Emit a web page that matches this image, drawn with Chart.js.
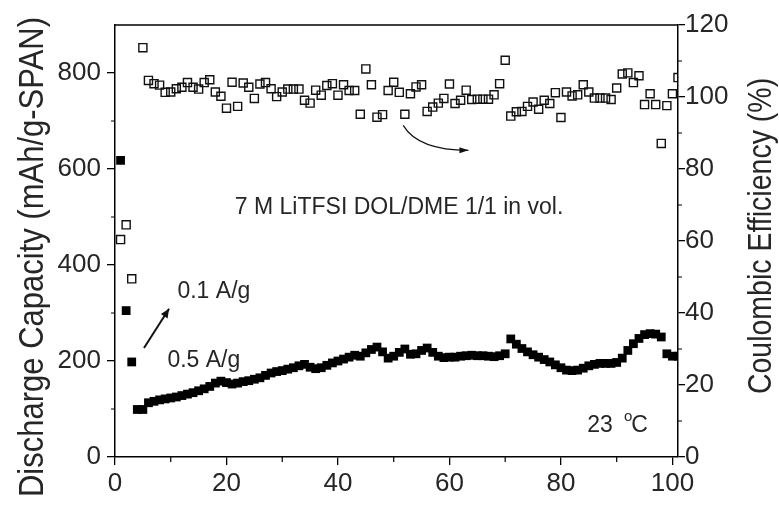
<!DOCTYPE html>
<html>
<head>
<meta charset="utf-8">
<script src="https://cdn.jsdelivr.net/npm/chart.js@4/dist/chart.umd.min.js"></script>
<style>
  html, body { margin: 0; padding: 0; background: #fff; }
  #wrap { width: 779px; height: 510px; }
</style>
</head>
<body>
<div id="wrap"><canvas id="c" width="779" height="510"></canvas></div>
<script>
// cycle number
const cycles = [1,2,3,4,5,6,7,8,9,10,11,12,13,14,15,16,17,18,19,20,
  21,22,23,24,25,26,27,28,29,30,31,32,33,34,35,36,37,38,39,40,
  41,42,43,44,45,46,47,48,49,50,51,52,53,54,55,56,57,58,59,60,
  61,62,63,64,65,66,67,68,69,70,71,72,73,74,75,76,77,78,79,80,
  81,82,83,84,85,86,87,88,89,90,91,92,93,94,95,96,97,98,99,100,101];

// discharge capacity (mAh/g-SPAN), left axis
const capacity = [618,305,198,99,99,113,116,119,121,123,125,128,131,134,138,142,147,154,158,155,
  152,154,157,159,162,165,170,175,178,180,183,186,190,193,187,184,186,191,196,200,
  204,208,212,210,217,224,229,219,206,210,218,225,214,215,222,227,218,210,207,208,
  208,210,211,212,211,211,210,209,211,215,246,235,226,219,213,208,203,198,192,186,
  181,180,181,185,190,193,195,195,195,197,206,222,236,247,255,257,256,250,215,210,210];

// coulombic efficiency (%), right axis
const efficiency = [60.4,64.5,49.5,null,113.7,104.6,103.7,103.3,101.3,101.4,102.3,102.7,104,102.7,102.2,104,104.8,101.4,100.2,96.9,
  104.1,97.4,103.9,102.7,99.6,103.6,104,102.3,100.1,101.4,102.2,102.2,102.2,99.1,98.3,101.9,100.5,103.2,103.7,100.5,
  103.4,101.8,101.8,95.2,107.8,103.4,94.4,95.1,101.8,104.1,101.3,95.2,100.9,102.8,103.4,96,97.2,98.3,99.6,103.6,
  98.2,99.1,101.9,99.3,99.4,99.4,99.4,100.6,103.7,110.2,94.7,95.9,96,97.4,98.6,96.6,99.1,98.2,101.2,94.3,
  101.4,100.3,100.6,103.4,101.4,99.7,99.7,99.7,99.3,102.5,106.4,106.7,104,105.9,97.9,100.9,97.9,87.1,97.6,100.9,105.4];

// ticks
const xTicks = [0,20,40,60,80,100];
const xMinor = [10,30,50,70,90];
const capTicks = [0,200,400,600,800];
const capMinor = [100,300,500,700];
const ceTicks = [0,20,40,60,80,100,120];
const ceMinor = [10,30,50,70,90,110];

const FONT = '"Liberation Sans", Arial, Helvetica, sans-serif';
const TXT = '#262626';

const capPoints = cycles.map((c, i) => ({ x: c, y: capacity[i] }));
const cePoints = cycles.map((c, i) => ({ x: c, y: efficiency[i] }));

function setTicks(list) {
  return scale => { scale.ticks = list.map(v => ({ value: v })); };
}

const extras = {
  id: 'extras',
  afterDraw(chart) {
    const { ctx, chartArea: a, scales } = chart;
    const sx = scales.x, sl = scales.y, sr = scales.y1;
    ctx.save();
    ctx.strokeStyle = '#000';
    ctx.lineWidth = 1.5;
    ctx.beginPath();
    ctx.moveTo(a.left, a.top);
    ctx.lineTo(a.right, a.top);
    ctx.stroke();

    // minor ticks
    ctx.lineWidth = 1.2;
    ctx.beginPath();
    xMinor.forEach(v => { const p = sx.getPixelForValue(v); ctx.moveTo(p, a.bottom); ctx.lineTo(p, a.bottom + 5); });
    capMinor.forEach(v => { const p = sl.getPixelForValue(v); ctx.moveTo(a.left, p); ctx.lineTo(a.left - 4, p); });
    ceMinor.forEach(v => { const p = sr.getPixelForValue(v); ctx.moveTo(a.right, p); ctx.lineTo(a.right + 4, p); });
    ctx.stroke();

    // notes
    ctx.fillStyle = TXT;
    ctx.font = '23px ' + FONT;
    ctx.textAlign = 'left';
    ctx.textBaseline = 'middle';
    ctx.fillText('7 M LiTFSI DOL/DME 1/1 in vol.', sx.getPixelForValue(21.5), sl.getPixelForValue(520));
    ctx.fillText('0.1 A/g', sx.getPixelForValue(11.2), sl.getPixelForValue(344));
    ctx.fillText('0.5 A/g', sx.getPixelForValue(9.4), sl.getPixelForValue(201));
    ctx.fillText('23', sx.getPixelForValue(84.7), sl.getPixelForValue(66));
    ctx.font = '15px ' + FONT;
    ctx.fillText('o', sx.getPixelForValue(91.3), sl.getPixelForValue(83));
    ctx.font = '23px ' + FONT;
    ctx.fillText('C', sx.getPixelForValue(92.6), sl.getPixelForValue(66));

    // straight arrow (0.5 -> 0.1 A/g)
    ctx.strokeStyle = '#111';
    ctx.fillStyle = '#111';
    ctx.lineWidth = 2;
    const x0 = sx.getPixelForValue(5.2), y0 = sl.getPixelForValue(227);
    const x1 = sx.getPixelForValue(9.7), y1 = sl.getPixelForValue(309);
    ctx.beginPath(); ctx.moveTo(x0, y0); ctx.lineTo(x1, y1); ctx.stroke();
    head(ctx, x1, y1, Math.atan2(y1 - y0, x1 - x0), 9, 4);

    // curved arrow
    ctx.lineWidth = 1.2;
    const c0x = sx.getPixelForValue(51.7), c0y = sl.getPixelForValue(691);
    const ccx = sx.getPixelForValue(54.4), ccy = sl.getPixelForValue(639);
    const c1x = sx.getPixelForValue(63.4), c1y = sl.getPixelForValue(639);
    ctx.beginPath(); ctx.moveTo(c0x, c0y); ctx.quadraticCurveTo(ccx, ccy, c1x, c1y); ctx.stroke();
    head(ctx, c1x, c1y, Math.atan2(c1y - ccy, c1x - ccx), 9, 3);

    // axis titles
    ctx.fillStyle = TXT;
    ctx.textAlign = 'center';
    ctx.textBaseline = 'alphabetic';
    ctx.save();
    ctx.translate(43, 257);
    ctx.rotate(-Math.PI / 2);
    ctx.scale(1, 1.12);
    ctx.font = '31px ' + FONT;
    ctx.fillText('Discharge Capacity (mAh/g-SPAN)', 0, 0);
    ctx.restore();
    ctx.save();
    ctx.translate(771, 236);
    ctx.rotate(-Math.PI / 2);
    ctx.scale(1, 1.15);
    ctx.font = '28.5px ' + FONT;
    ctx.fillText('Coulombic Efficiency (%)', 0, 0);
    ctx.restore();
    ctx.restore();
  }
};

function head(ctx, x, y, ang, len, half) {
  ctx.beginPath();
  ctx.moveTo(x, y);
  ctx.lineTo(x - len * Math.cos(ang) + half * Math.sin(ang), y - len * Math.sin(ang) - half * Math.cos(ang));
  ctx.lineTo(x - len * Math.cos(ang) - half * Math.sin(ang), y - len * Math.sin(ang) + half * Math.cos(ang));
  ctx.closePath();
  ctx.fill();
}

const axisGrid = { drawOnChartArea: false, drawTicks: true, tickLength: 8, color: '#000', lineWidth: 1.3 };
const axisBorder = { display: true, color: '#000', width: 1.5 };

new Chart(document.getElementById('c'), {
  type: 'line',
  data: {
    datasets: [
      {
        label: 'Discharge capacity',
        data: capPoints,
        yAxisID: 'y',
        showLine: false,
        pointStyle: 'rect',
        pointRadius: 6.2,
        backgroundColor: '#000',
        borderColor: '#000',
        pointBorderWidth: 0,
        clip: 0
      },
      {
        label: 'Coulombic efficiency',
        data: cePoints,
        yAxisID: 'y1',
        showLine: false,
        pointStyle: 'rect',
        pointRadius: 5.7,
        backgroundColor: 'rgba(255,255,255,0)',
        borderColor: '#111',
        pointBorderWidth: 1.4,
        clip: 0
      }
    ]
  },
  options: {
    responsive: false,
    animation: false,
    events: [],
    layout: { padding: { top: 25, left: 0, right: 0, bottom: 0 } },
    plugins: { legend: { display: false }, tooltip: { enabled: false } },
    scales: {
      x: {
        type: 'linear',
        min: 0,
        max: 101,
        afterBuildTicks: setTicks(xTicks),
        afterFit: s => { s.height = 53; },
        grid: axisGrid,
        border: axisBorder,
        ticks: { color: TXT, font: { family: FONT, size: 26 }, padding: 3, maxRotation: 0 }
      },
      y: {
        position: 'left',
        min: 0,
        max: 900,
        afterBuildTicks: setTicks(capTicks),
        afterFit: s => { s.width = 115; },
        grid: axisGrid,
        border: axisBorder,
        ticks: { color: TXT, font: { family: FONT, size: 26 }, padding: 6 }
      },
      y1: {
        position: 'right',
        min: 0,
        max: 120,
        afterBuildTicks: setTicks(ceTicks),
        afterFit: s => { s.width = 101; },
        grid: Object.assign({}, axisGrid, { tickLength: 7 }),
        border: axisBorder,
        ticks: { color: TXT, font: { family: FONT, size: 26 }, padding: 0 }
      }
    }
  },
  plugins: [extras]
});
</script>
</body>
</html>
